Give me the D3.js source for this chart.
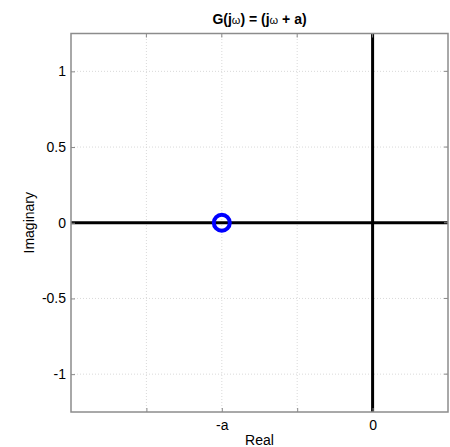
<!DOCTYPE html>
<html>
<head>
<meta charset="utf-8">
<script src="https://cdn.jsdelivr.net/npm/d3@7"></script>
<style>
  html, body { margin: 0; padding: 0; background: #fff; }
  svg { display: block; font-family: "Liberation Sans", Arial, sans-serif; }
</style>
</head>
<body>
<svg id="chart" width="450" height="447"></svg>
<script>
// Root locations of G(jw) = (jw + a), with a = 1
const zeroReal = [-1];
const zeroImag = [0];

// Axis ranges and ticks
const xDomain = [-2, 0.5];
const yDomain = [-1.25, 1.25];
const xTicks = [-1.5, -1, -0.5, 0];
const xTickLabels = ["", "-a", "", "0"];
const yTicks = [-1, -0.5, 0, 0.5, 1];
const yTickLabels = ["-1", "-0.5", "0", "0.5", "1"];

const svg = d3.select("#chart");
const m = { left: 71, right: 2, top: 33.5, bottom: 35 };
const W = 450, H = 447;
const FS = 14;

const x = d3.scaleLinear().domain(xDomain).range([m.left, W - m.right]);
const y = d3.scaleLinear().domain(yDomain).range([H - m.bottom, m.top]);

const g = svg.append("g");

// Dotted grid
g.selectAll(".gx").data(xTicks).join("line")
  .attr("x1", d => x(d)).attr("x2", d => x(d))
  .attr("y1", y(yDomain[0])).attr("y2", y(yDomain[1]))
  .attr("stroke", "#cfcfcf").attr("stroke-width", 0.8)
  .attr("stroke-dasharray", "1,2");
g.selectAll(".gy").data(yTicks).join("line")
  .attr("y1", d => y(d)).attr("y2", d => y(d))
  .attr("x1", x(xDomain[0])).attr("x2", x(xDomain[1]))
  .attr("stroke", "#cfcfcf").attr("stroke-width", 0.8)
  .attr("stroke-dasharray", "1,2");

// Real and imaginary axes through the origin
g.append("line")
  .attr("x1", x(xDomain[0])).attr("x2", x(xDomain[1]))
  .attr("y1", y(0)).attr("y2", y(0))
  .attr("stroke", "#000").attr("stroke-width", 3);
g.append("line")
  .attr("x1", x(0)).attr("x2", x(0))
  .attr("y1", y(yDomain[0])).attr("y2", y(yDomain[1]))
  .attr("stroke", "#000").attr("stroke-width", 3);

// Zero marker
g.selectAll(".zero").data(zeroReal).join("circle")
  .attr("cx", d => x(d)).attr("cy", (d, i) => y(zeroImag[i]))
  .attr("r", 8)
  .attr("fill", "none").attr("stroke", "#0000ff").attr("stroke-width", 4);

// Axes with inward ticks
const xAxis = d3.axisBottom(x).tickValues(xTicks)
  .tickFormat((d, i) => xTickLabels[i]).tickSizeInner(-4).tickSizeOuter(0).tickPadding(8);
const yAxis = d3.axisLeft(y).tickValues(yTicks)
  .tickFormat((d, i) => yTickLabels[i]).tickSizeInner(-4).tickSizeOuter(0).tickPadding(5);

const gx = svg.append("g").attr("transform", `translate(0,${y(yDomain[0])})`).call(xAxis);
const gy = svg.append("g").attr("transform", `translate(${x(xDomain[0])},0)`).call(yAxis);
gx.select(".domain").remove();
gy.select(".domain").remove();
[gx, gy].forEach(a => {
  a.selectAll(".tick line").attr("stroke", "#888").attr("stroke-width", 1);
  a.selectAll(".tick text").attr("font-size", FS).attr("fill", "#000")
    .attr("font-family", "'Liberation Sans', Arial, sans-serif");
});
// Mirrored ticks on the top and right edges
svg.append("g").selectAll("line").data(yTicks).join("line")
  .attr("x1", x(xDomain[1])).attr("x2", x(xDomain[1]) - 4)
  .attr("y1", d => y(d)).attr("y2", d => y(d))
  .attr("stroke", "#888");
svg.append("g").selectAll("line").data(xTicks).join("line")
  .attr("y1", y(yDomain[1])).attr("y2", y(yDomain[1]) + 4)
  .attr("x1", d => x(d)).attr("x2", d => x(d))
  .attr("stroke", "#888");

// Box
svg.append("rect")
  .attr("x", x(xDomain[0])).attr("y", y(yDomain[1]))
  .attr("width", x(xDomain[1]) - x(xDomain[0]))
  .attr("height", y(yDomain[0]) - y(yDomain[1]))
  .attr("fill", "none").attr("stroke", "#8c8c8c").attr("stroke-width", 1.5);

// Labels
const cx = (x(xDomain[0]) + x(xDomain[1])) / 2;
const title = svg.append("text")
  .attr("x", cx).attr("y", 23.5).attr("text-anchor", "middle")
  .attr("font-size", FS).attr("font-weight", "bold");
title.append("tspan").text("G(j");
title.append("tspan").attr("font-size", 11).attr("font-weight", "normal").text("ω");
title.append("tspan").text(") = (j");
title.append("tspan").attr("font-size", 11).attr("font-weight", "normal").text("ω");
title.append("tspan").text(" + a)");

svg.append("text")
  .attr("x", cx).attr("y", 445).attr("text-anchor", "middle")
  .attr("font-size", FS).text("Real");

svg.append("text")
  .attr("transform", `translate(33.5,${(y(yDomain[0]) + y(yDomain[1])) / 2}) rotate(-90)`)
  .attr("text-anchor", "middle")
  .attr("font-size", FS).text("Imaginary");
</script>
</body>
</html>
